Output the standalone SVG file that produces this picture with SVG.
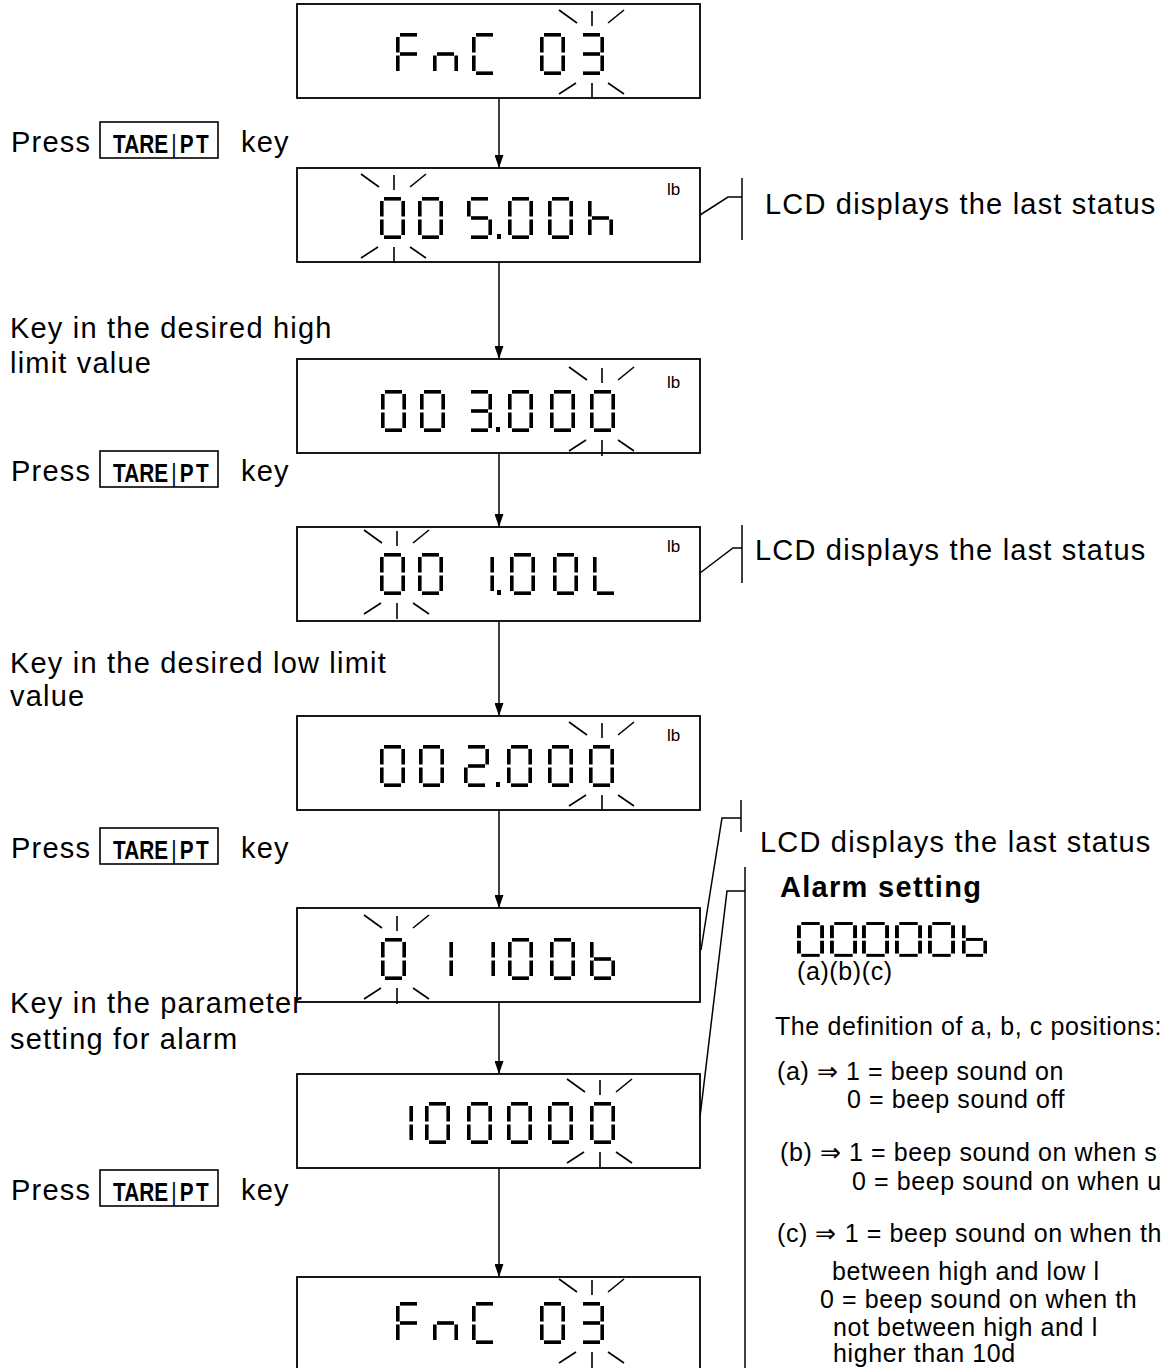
<svg xmlns="http://www.w3.org/2000/svg" xmlns:xlink="http://www.w3.org/1999/xlink" width="1161" height="1368" viewBox="0 0 1161 1368">
<style>
.box{fill:#fff;stroke:#000;stroke-width:1.8}
.seg{fill:#000}
.bl{stroke:#000;stroke-width:1.6;fill:none}
.conn{stroke:#000;stroke-width:1.5;fill:none}
.t{font-family:"Liberation Sans",Arial,sans-serif;font-size:29px;letter-spacing:1.2px;fill:#000}
.s{font-family:"Liberation Sans",Arial,sans-serif;font-size:25px;letter-spacing:0.6px;fill:#000}
.lb{font-family:"Liberation Sans",Arial,sans-serif;font-size:17px;fill:#000}
.k{font-family:"Liberation Sans",Arial,sans-serif;font-size:26px;fill:#000}
.kb{fill:none;stroke:#000;stroke-width:1.6}
.h{font-family:"Liberation Sans",Arial,sans-serif;font-size:29px;font-weight:bold;letter-spacing:1.3px;fill:#000}
</style>
<defs>
<rect id="sa" class="seg" x="4" y="0" width="17" height="3.6"/>
<rect id="sb" class="seg" x="21.4" y="4" width="3.6" height="15.5"/>
<rect id="sc" class="seg" x="21.4" y="22.5" width="3.6" height="15.5"/>
<rect id="sd" class="seg" x="4" y="38.4" width="17" height="3.6"/>
<rect id="se" class="seg" x="0" y="22.5" width="3.6" height="15.5"/>
<rect id="sf" class="seg" x="0" y="4" width="3.6" height="15.5"/>
<rect id="sg" class="seg" x="4" y="19.2" width="17" height="3.6"/>
<g id="g0"><use href="#sa"/><use href="#sb"/><use href="#sc"/><use href="#sd"/><use href="#se"/><use href="#sf"/></g>
<g id="g1"><use href="#sb"/><use href="#sc"/></g>
<g id="g2"><use href="#sa"/><use href="#sb"/><use href="#sg"/><use href="#se"/><use href="#sd"/></g>
<g id="g3"><use href="#sa"/><use href="#sb"/><use href="#sg"/><use href="#sc"/><use href="#sd"/></g>
<g id="g5"><use href="#sa"/><use href="#sf"/><use href="#sg"/><use href="#sc"/><use href="#sd"/></g>
<g id="gF"><use href="#sa"/><use href="#sf"/><use href="#sg"/><use href="#se"/></g>
<g id="gn"><use href="#se"/><use href="#sg"/><use href="#sc"/></g>
<g id="gC"><use href="#sa"/><use href="#sf"/><use href="#se"/><use href="#sd"/></g>
<g id="gh"><use href="#sf"/><use href="#se"/><use href="#sg"/><use href="#sc"/></g>
<g id="gL"><use href="#sf"/><use href="#se"/><use href="#sd"/></g>
<g id="gb"><use href="#sf"/><use href="#se"/><use href="#sg"/><use href="#sc"/><use href="#sd"/></g>
<rect id="dp" class="seg" x="0" y="0" width="4" height="5"/>
<g id="blink" class="bl">
<line x1="0" y1="-22" x2="0" y2="-7"/>
<line x1="-33" y1="-23" x2="-15" y2="-10"/>
<line x1="16" y1="-10" x2="32" y2="-23"/>
<line x1="0" y1="50" x2="0" y2="66"/>
<line x1="-33" y1="61" x2="-16" y2="50"/>
<line x1="16" y1="50" x2="32" y2="61"/>
</g>
<marker id="ah" viewBox="0 0 13 9" refX="13" refY="4.5" markerWidth="13" markerHeight="9" markerUnits="userSpaceOnUse" orient="auto">
<path d="M0,0 L13,4.5 L0,9 z" fill="#000"/>
</marker>
</defs>

<g id="connectors">
<line class="conn" x1="499" y1="98" x2="499" y2="168" marker-end="url(#ah)"/>
<line class="conn" x1="499" y1="262" x2="499" y2="359" marker-end="url(#ah)"/>
<line class="conn" x1="499" y1="453" x2="499" y2="527" marker-end="url(#ah)"/>
<line class="conn" x1="499" y1="621" x2="499" y2="716" marker-end="url(#ah)"/>
<line class="conn" x1="499" y1="810" x2="499" y2="908" marker-end="url(#ah)"/>
<line class="conn" x1="499" y1="1002" x2="499" y2="1074" marker-end="url(#ah)"/>
<line class="conn" x1="499" y1="1168" x2="499" y2="1277" marker-end="url(#ah)"/>
<polyline class="conn" points="700,215 728,197 742,197"/>
<line class="conn" x1="742" y1="178" x2="742" y2="240"/>
<polyline class="conn" points="700,573 733,548 742,548"/>
<line class="conn" x1="742" y1="525" x2="742" y2="583"/>
<polyline class="conn" points="701,950 722,818 741,818"/>
<line class="conn" x1="741" y1="800" x2="741" y2="832"/>
<polyline class="conn" points="700,1117 727,891 745,891"/>
<line class="conn" x1="745" y1="867" x2="745" y2="1368"/>
</g>

<g id="lcd1">
<title>FnC 03</title>
<rect class="box" x="297" y="4" width="403" height="94"/>
<use href="#gF" x="396" y="33"/><use href="#gn" x="433" y="33"/><use href="#gC" x="472" y="33"/><use href="#g0" x="540" y="33"/><use href="#g3" x="579" y="33"/>
<use href="#blink" x="592" y="33"/>
</g>

<g id="lcd2">
<title>005.00h</title>
<rect class="box" x="297" y="168" width="403" height="94"/>
<use href="#g0" x="380" y="197"/><use href="#g0" x="418" y="197"/><use href="#g5" x="467" y="197"/><use href="#dp" x="497" y="234"/><use href="#g0" x="508" y="197"/><use href="#g0" x="548" y="197"/><use href="#gh" x="588" y="197"/>
<use href="#blink" x="394" y="197"/>
<text class="lb" x="667" y="195">lb</text>
</g>

<g id="lcd3">
<title>003.000</title>
<rect class="box" x="297" y="359" width="403" height="94"/>
<use href="#g0" x="381" y="390"/><use href="#g0" x="420" y="390"/><use href="#g3" x="467" y="390"/><use href="#dp" x="496" y="427"/><use href="#g0" x="508" y="390"/><use href="#g0" x="550" y="390"/><use href="#g0" x="590" y="390"/>
<use href="#blink" x="602" y="390"/>
<text class="lb" x="667" y="388">lb</text>
</g>

<g id="lcd4">
<title>00 1.00L</title>
<rect class="box" x="297" y="527" width="403" height="94"/>
<use href="#g0" x="380" y="553"/><use href="#g0" x="418" y="553"/><use href="#g1" x="469" y="553"/><use href="#dp" x="497" y="590"/><use href="#g0" x="510" y="553"/><use href="#g0" x="553" y="553"/><use href="#gL" x="593" y="553"/>
<use href="#blink" x="397" y="553"/>
<text class="lb" x="667" y="552">lb</text>
</g>

<g id="lcd5">
<title>002.000</title>
<rect class="box" x="297" y="716" width="403" height="94"/>
<use href="#g0" x="380" y="745"/><use href="#g0" x="419" y="745"/><use href="#g2" x="464" y="745"/><use href="#dp" x="496" y="782"/><use href="#g0" x="507" y="745"/><use href="#g0" x="548" y="745"/><use href="#g0" x="589" y="745"/>
<use href="#blink" x="602" y="745"/>
<text class="lb" x="667" y="741">lb</text>
</g>

<g id="lcd6">
<title>01100b</title>
<rect class="box" x="297" y="908" width="403" height="94"/>
<use href="#g0" x="381" y="938"/><use href="#g1" x="428" y="938"/><use href="#g1" x="470" y="938"/><use href="#g0" x="508" y="938"/><use href="#g0" x="550" y="938"/><use href="#gb" x="590" y="938"/>
<use href="#blink" x="397" y="938"/>
</g>

<g id="lcd7">
<title>100000</title>
<rect class="box" x="297" y="1074" width="403" height="94"/>
<use href="#g1" x="388" y="1102"/><use href="#g0" x="425" y="1102"/><use href="#g0" x="467" y="1102"/><use href="#g0" x="507" y="1102"/><use href="#g0" x="548" y="1102"/><use href="#g0" x="590" y="1102"/>
<use href="#blink" x="600" y="1102"/>
</g>

<g id="lcd8">
<title>FnC 03</title>
<rect class="box" x="297" y="1277" width="403" height="94"/>
<use href="#gF" x="396" y="1302"/><use href="#gn" x="433" y="1302"/><use href="#gC" x="472" y="1302"/><use href="#g0" x="540" y="1302"/><use href="#g3" x="579" y="1302"/>
<use href="#blink" x="592" y="1302"/>
</g>

<g id="step1">
<text class="t" x="11" y="152">Press</text>
<rect class="kb" x="100" y="122" width="118" height="36"/>
<text class="k" transform="translate(113,153) scale(0.8,1)"><tspan font-weight="bold">TARE</tspan><tspan dx="4">|</tspan><tspan dx="4" font-weight="bold" letter-spacing="3">PT</tspan></text>
<text class="t" x="241" y="152">key</text>
</g>
<g id="step2">
<text class="t" x="10" y="338">Key in the desired high</text>
<text class="t" x="10" y="373">limit value</text>
</g>
<g id="step3">
<text class="t" x="11" y="481">Press</text>
<rect class="kb" x="100" y="451" width="118" height="36"/>
<text class="k" transform="translate(113,482) scale(0.8,1)"><tspan font-weight="bold">TARE</tspan><tspan dx="4">|</tspan><tspan dx="4" font-weight="bold" letter-spacing="3">PT</tspan></text>
<text class="t" x="241" y="481">key</text>
</g>
<g id="step4">
<text class="t" x="10" y="673">Key in the desired low limit</text>
<text class="t" x="10" y="706">value</text>
</g>
<g id="step5">
<text class="t" x="11" y="858">Press</text>
<rect class="kb" x="100" y="828" width="118" height="36"/>
<text class="k" transform="translate(113,859) scale(0.8,1)"><tspan font-weight="bold">TARE</tspan><tspan dx="4">|</tspan><tspan dx="4" font-weight="bold" letter-spacing="3">PT</tspan></text>
<text class="t" x="241" y="858">key</text>
</g>
<g id="step6">
<text class="t" x="10" y="1013">Key in the parameter</text>
<text class="t" x="10" y="1049">setting for alarm</text>
</g>
<g id="step7">
<text class="t" x="11" y="1200">Press</text>
<rect class="kb" x="100" y="1170" width="118" height="36"/>
<text class="k" transform="translate(113,1201) scale(0.8,1)"><tspan font-weight="bold">TARE</tspan><tspan dx="4">|</tspan><tspan dx="4" font-weight="bold" letter-spacing="3">PT</tspan></text>
<text class="t" x="241" y="1200">key</text>
</g>

<g id="note1"><text class="t" x="765" y="214">LCD displays the last status</text></g>
<g id="note2"><text class="t" x="755" y="560">LCD displays the last status</text></g>
<g id="note3"><text class="t" x="760" y="852">LCD displays the last status</text></g>

<g id="alarm">
<text class="h" x="780" y="897">Alarm setting</text>
<g>
<title>00000b</title>
<use href="#g0" transform="translate(797,922) scale(1.08,0.83)"/>
<use href="#g0" transform="translate(830,922) scale(1.08,0.83)"/>
<use href="#g0" transform="translate(862,922) scale(1.08,0.83)"/>
<use href="#g0" transform="translate(895,922) scale(1.08,0.83)"/>
<use href="#g0" transform="translate(928,922) scale(1.08,0.83)"/>
<use href="#gb" transform="translate(962,922) scale(1.0,0.83)"/>
</g>
<text class="s" x="797" y="980">(a)(b)(c)</text>
<text class="s" x="775" y="1035">The definition of a, b, c positions:</text>
<text class="s" x="777" y="1080">(a) ⇒ 1 = beep sound on</text>
<text class="s" x="847" y="1108">0 = beep sound off</text>
<text class="s" x="780" y="1161">(b) ⇒ 1 = beep sound on when s</text>
<text class="s" x="852" y="1190" letter-spacing="0">0 = beep sound on when u</text>
<text class="s" x="777" y="1242">(c) ⇒ 1 = beep sound on when th</text>
<text class="s" x="832" y="1280">between high and low l</text>
<text class="s" x="820" y="1308">0 = beep sound on when th</text>
<text class="s" x="833" y="1336">not between high and l</text>
<text class="s" x="833" y="1362">higher than 10d</text>
</g>
</svg>
